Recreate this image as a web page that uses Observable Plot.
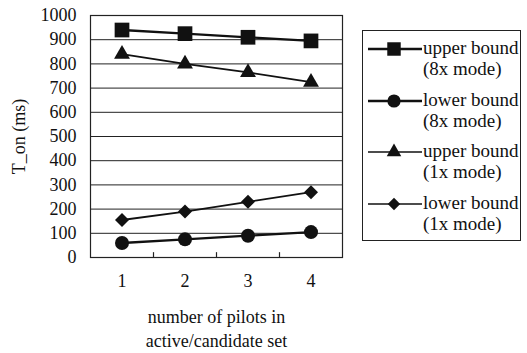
<!DOCTYPE html>
<html>
<head>
<meta charset="utf-8">
<script src="https://cdn.jsdelivr.net/npm/d3@7"></script>
<script src="https://cdn.jsdelivr.net/npm/@observablehq/plot@0.6"></script>
<style>
  html, body { margin: 0; padding: 0; background: #fff; }
  #wrap { position: relative; width: 527px; height: 353px; font-family: "Liberation Serif", "DejaVu Serif", serif; }
  #wrap svg text { font-family: "Liberation Serif", "DejaVu Serif", serif; }
  #legend { position: absolute; left: 362px; top: 30px; width: 159px; height: 211px; border: 1px solid #222; box-sizing: border-box; background: #fff; }
  .entry { position: absolute; left: 5px; display: flex; align-items: flex-start; }
  .entry svg { flex: none; }
  .entry .txt { font-size: 19px; line-height: 21px; color: #111; margin-left: 1px; margin-top: 0px; white-space: nowrap; }
</style>
</head>
<body>
<div id="wrap"></div>
<script>
const pilots = [1, 2, 3, 4];
const seriesNames = ["upper bound\n(8x mode)", "lower bound\n(8x mode)", "upper bound\n(1x mode)", "lower bound\n(1x mode)"];
const upper8x = [940, 925, 910, 895];
const lower8x = [60, 75, 90, 105];
const upper1x = [840, 800, 765, 725];
const lower1x = [155, 190, 230, 270];
const yTicks = [0, 100, 200, 300, 400, 500, 600, 700, 800, 900, 1000];
const xBoundaries = [1.5, 2.5, 3.5];
const xTitle = "number of pilots in\nactive/candidate set";
const yTitle = "T_on (ms)";

const symbols = ["square", "circle", "triangle", "diamond2"];
const d3symbols = {square: d3.symbolSquare, circle: d3.symbolCircle, triangle: d3.symbolTriangle, diamond2: d3.symbolDiamond2};
const radii = [8.3, 7, 5.9, 6.3];
const lineWidths = [2.3, 2.3, 1.8, 1.8];
const legendRadii = [7.6, 6.6, 5.4, 5.6];
const legendLineWidths = [2.6, 2.4, 1.7, 1.6];
const values = [upper8x, lower8x, upper1x, lower1x];

const data = [];
values.forEach((vals, s) => vals.forEach((v, i) => data.push({series: seriesNames[s], s, x: pilots[i], y: v})));

const font = "'Liberation Serif', 'DejaVu Serif', serif";

const plot = Plot.plot({
  width: 527,
  height: 353,
  marginLeft: 90,
  marginRight: 185,
  marginTop: 15,
  marginBottom: 96,
  style: {fontFamily: font, fontSize: "17px", color: "#111", background: "transparent"},
  x: {domain: [0.5, 4.5]},
  y: {domain: [0, 1000]},
  marks: [
    Plot.ruleY(yTicks, {stroke: "#222", strokeWidth: 1}),
    Plot.frame({stroke: "#222", strokeWidth: 1.2}),
    Plot.ruleX(xBoundaries, {y1: 0, y2: 20, stroke: "#222", strokeWidth: 1.2}),
    Plot.axisY({ticks: yTicks, tickSize: 0, tickPadding: 14, tickFormat: d => String(d), label: yTitle, labelAnchor: "center", labelOffset: 78, labelArrow: "none", fontSize: 18}),
    Plot.axisX({ticks: pilots, tickSize: 0, tickPadding: 17, tickFormat: d => String(d), label: null, fontSize: 18}),
    Plot.text([xTitle], {frameAnchor: "bottom", dy: 49, lineAnchor: "top", lineHeight: 1.3, fontSize: 18, fill: "#111"}),
    ...values.map((vals, s) => Plot.line(data.filter(d => d.s === s), {x: "x", y: "y", stroke: "#111", strokeWidth: lineWidths[s]})),
    ...values.map((vals, s) => Plot.dot(data.filter(d => d.s === s), {x: "x", y: "y", symbol: () => symbols[s], r: radii[s], fill: "#111", stroke: "none"}))
  ]
});

const wrap = document.getElementById("wrap");
wrap.appendChild(plot);

// Legend
const legend = document.createElement("div");
legend.id = "legend";
const tops = [6, 58, 109, 161];
seriesNames.forEach((name, s) => {
  const e = document.createElement("div");
  e.className = "entry";
  e.style.top = tops[s] + "px";
  const sz = Math.PI * legendRadii[s] * legendRadii[s];
  const path = d3.symbol(d3symbols[symbols[s]], sz)();
  e.innerHTML = `<svg width="54" height="24"><line x1="0" x2="54" y1="12" y2="12" stroke="#111" stroke-width="${legendLineWidths[s]}"/><path d="${path}" transform="translate(26,12)" fill="#111"/></svg>`;
  const t = document.createElement("div");
  t.className = "txt";
  t.innerHTML = name.split("\n").join("<br>");
  e.appendChild(t);
  legend.appendChild(e);
});
wrap.appendChild(legend);
</script>
</body>
</html>
